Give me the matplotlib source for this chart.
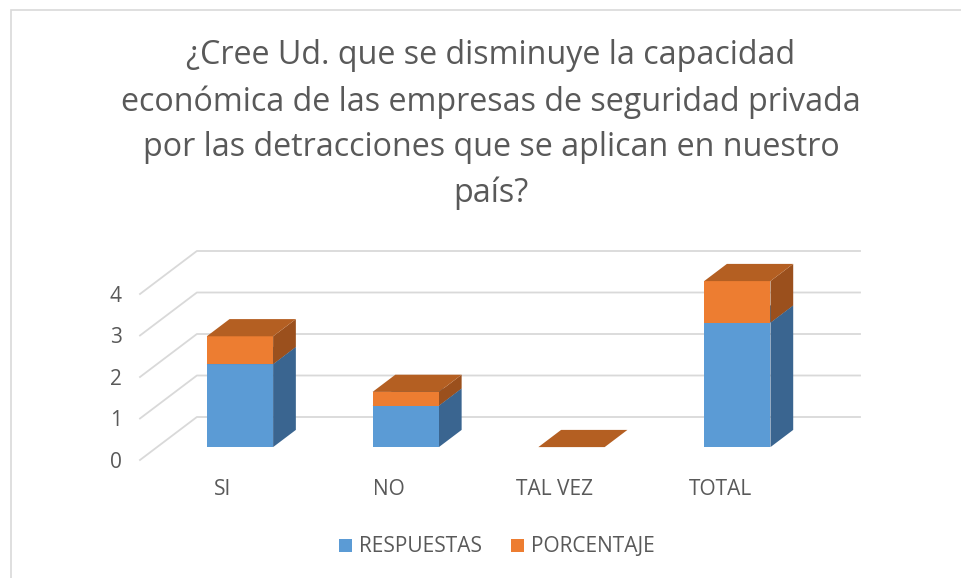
import matplotlib
matplotlib.use("Agg")
import matplotlib.pyplot as plt
from matplotlib.patches import Polygon, Patch, Rectangle

plt.rcParams['font.family'] = ['Open Sans', 'DejaVu Sans']

# data
categories = ['SI', 'NO', 'TAL VEZ', 'TOTAL']
respuestas = [2, 1, 0, 3]
porcentaje = [0.67, 0.33, 0, 1]
series_names = ['RESPUESTAS', 'PORCENTAJE']
y_ticks = [0, 1, 2, 3, 4]

title = ("¿Cree Ud. que se disminuye la capacidad\n"
         "económica de las empresas de seguridad privada\n"
         "por las detracciones que se aplican en nuestro\n"
         "país?")

# colours: front, side, top
blue = ('#5B9BD5', '#3A6590', '#41719C')
orange = ('#ED7D31', '#9B501D', '#B45F22')
grid_c = '#D9D9D9'
text_c = '#595959'

W, H = 962, 578
fig = plt.figure(figsize=(W / 100, H / 100), dpi=100)

# chart border (only left/top visible in the original)
fig.add_artist(Rectangle((11 / W, -0.05), 1.2, 1 - 10 / H + 0.05, transform=fig.transFigure,
                         fill=False, edgecolor=grid_c, lw=1.2))

# oblique depth of the 3d box, in data units
DX = 0.343
DY = 1.036
n = len(categories)

# axes placed so that x in [0, n+DX], y in [0, 4+DY]
left_px, right_px = 140, 860
y0_px, ytop_px = 460, 251
ax = fig.add_axes([left_px / W, (H - y0_px) / H, (right_px - left_px) / W, (y0_px - ytop_px) / H])
ax.set_xlim(0, n + DX)
ax.set_ylim(0, max(y_ticks) + DY)
for s in ax.spines.values():
    s.set_visible(False)

# gridlines: diagonal side wall + back wall
for v in y_ticks:
    ax.plot([0, DX, n + DX], [v, v + DY, v + DY], color=grid_c, lw=1.3, zorder=1, clip_on=False)

ax.set_yticks(y_ticks)
ax.set_yticklabels([str(v) for v in y_ticks])
ax.set_xticks([i + 0.5 for i in range(n)])
ax.set_xticklabels(categories)
ax.tick_params(axis='y', length=0, pad=13, labelsize=15, labelcolor=text_c)
ax.tick_params(axis='x', length=0, pad=14, labelsize=15, labelcolor=text_c)

# bars as oblique boxes
d0, d1 = 0.3, 0.7
bw = 0.4
ox, oy = d0 * DX, d0 * DY
bx, by = (d1 - d0) * DX, (d1 - d0) * DY

def box(x, y, h, cols):
    x0, y0 = x + ox, y + oy
    front = Polygon([(x0, y0), (x0 + bw, y0), (x0 + bw, y0 + h), (x0, y0 + h)],
                    closed=True, facecolor=cols[0], edgecolor='none', zorder=3)
    side = Polygon([(x0 + bw, y0), (x0 + bw + bx, y0 + by), (x0 + bw + bx, y0 + h + by), (x0 + bw, y0 + h)],
                   closed=True, facecolor=cols[1], edgecolor='none', zorder=3)
    top = Polygon([(x0, y0 + h), (x0 + bw, y0 + h), (x0 + bw + bx, y0 + h + by), (x0 + bx, y0 + h + by)],
                  closed=True, facecolor=cols[2], edgecolor='none', zorder=3)
    for p in (side, front, top):
        p.set_clip_on(False)
        ax.add_patch(p)

for i in range(n):
    x = i + 0.5 - bw / 2
    if respuestas[i] > 0:
        box(x, 0, respuestas[i], blue)
    box(x, respuestas[i], porcentaje[i], orange)

fig.text(491 / W, 1 - 125 / H, title, ha='center', va='center', multialignment='center',
         fontsize=23.2, color=text_c, linespacing=1.5)

handles = [Patch(facecolor=blue[0]), Patch(facecolor=orange[0])]
fig.legend(handles, series_names, loc='center', bbox_to_anchor=(497 / W, 1 - 547 / H), ncol=2,
           frameon=False, fontsize=15, labelcolor=text_c, handlelength=0.6, handleheight=0.6,
           handletextpad=0.35, columnspacing=1.4)

fig.savefig('out.png', dpi=100)
